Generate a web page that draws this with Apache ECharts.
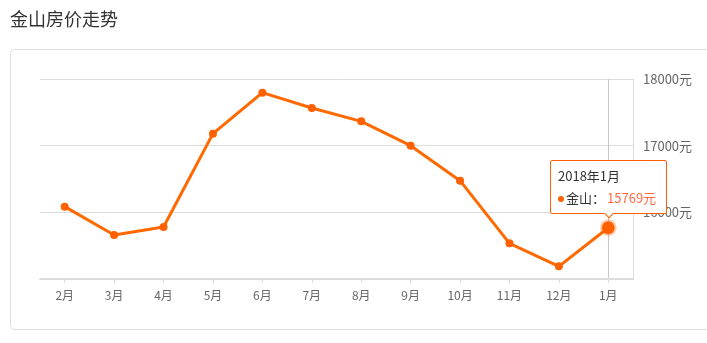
<!DOCTYPE html>
<html>
<head>
<meta charset="utf-8">
<script src="https://cdn.jsdelivr.net/npm/echarts@6/dist/echarts.min.js"></script>
<style>
html,body{margin:0;padding:0;background:#fff;}
#c{width:707px;height:343px;}
</style>
</head>
<body>
<div id="c"></div>
<script>
var titleText = '金山房价走势';
var seriesName = '金山';
var months = ['2月','3月','4月','5月','6月','7月','8月','9月','10月','11月','12月','1月'];
var monthFull = ['2017年2月','2017年3月','2017年4月','2017年5月','2017年6月','2017年7月','2017年8月','2017年9月','2017年10月','2017年11月','2017年12月','2018年1月'];
var prices = [16085, 15660, 15780, 17180, 17795, 17565, 17365, 17000, 16475, 15535, 15190, 15769];
var yMin = 15000, yMax = 18000, yStep = 1000;
var unit = '元';
var shownIndex = 11;

var FONT = '"Noto Sans CJK SC", "Noto Sans", sans-serif';
var ORANGE = '#ff6000';

var chart = echarts.init(document.getElementById('c'), null, {renderer: 'canvas'});
chart.setOption({
  animation: false,
  textStyle: {fontFamily: FONT},
  title: {
    text: titleText, left: 10, top: 10, padding: 0,
    textStyle: {fontSize: 18, fontWeight: 'normal', color: '#333', fontFamily: FONT}
  },
  graphic: [{
    type: 'rect', silent: true, z: -1,
    shape: {x: 10.5, y: 49.5, width: 740, height: 280, r: 4},
    style: {fill: 'none', stroke: '#dcdcdc', lineWidth: 1}
  }],
  grid: {left: 40, right: 74, top: 79, bottom: 64, containLabel: false},
  tooltip: {
    trigger: 'item',
    position: 'top',
    alwaysShowContent: true,
    transitionDuration: 0,
    backgroundColor: '#fff',
    borderColor: ORANGE,
    borderWidth: 1,
    borderRadius: 2,
    padding: [4, 10, 4, 7],
    extraCssText: 'box-shadow:none;',
    formatter: function (p) {
      return '<div style="font-family:' + FONT.replace(/"/g, "'") + ';font-size:13px;color:#333;line-height:22px;">' +
        '<div>' + monthFull[p.dataIndex] + '</div>' +
        '<div><span style="display:inline-block;width:6px;height:6px;border-radius:3px;background:' + ORANGE + ';margin-right:2px;vertical-align:middle;"></span>' +
        seriesName + '：<span style="color:#ff6a45;margin-left:2px;">' + p.value + unit + '</span></div>' +
        '</div>';
    }
  },
  xAxis: {
    type: 'category',
    data: months,
    boundaryGap: true,
    axisLine: {lineStyle: {color: '#dcdcdc', width: 2}},
    axisTick: {show: true, alignWithLabel: true, length: 4, lineStyle: {color: '#dcdcdc'}},
    axisLabel: {color: '#666', fontSize: 12, margin: 10, fontFamily: FONT},
    splitLine: {show: false},
    axisPointer: {
      show: true, type: 'line', value: months[shownIndex], status: 'show', triggerTooltip: false,
      snap: true, z: 0,
      lineStyle: {color: '#c8c8c8', width: 1, type: 'solid'},
      label: {show: false}
    }
  },
  yAxis: {
    type: 'value',
    position: 'right',
    min: yMin, max: yMax, interval: yStep,
    axisLine: {show: true, lineStyle: {color: '#dcdcdc', width: 1}},
    axisTick: {show: false},
    axisLabel: {color: '#666', fontSize: 13, margin: 10, showMinLabel: false, fontFamily: FONT,
      formatter: function (v) { return v + unit; }},
    splitLine: {show: true, lineStyle: {color: '#dcdcdc', width: 1}}
  },
  series: [{
    name: seriesName,
    type: 'line',
    data: prices,
    symbol: 'circle',
    symbolSize: 8,
    showAllSymbol: true,
    lineStyle: {color: ORANGE, width: 3},
    itemStyle: {color: ORANGE},
    emphasis: {
      scale: 1.6,
      lineStyle: {width: 3},
      itemStyle: {color: ORANGE, borderColor: 'rgba(255,96,0,0.3)', borderWidth: 4}
    }
  }]
});
chart.dispatchAction({type: 'showTip', seriesIndex: 0, dataIndex: shownIndex});
chart.dispatchAction({type: 'highlight', seriesIndex: 0, dataIndex: shownIndex});
</script>
</body>
</html>
